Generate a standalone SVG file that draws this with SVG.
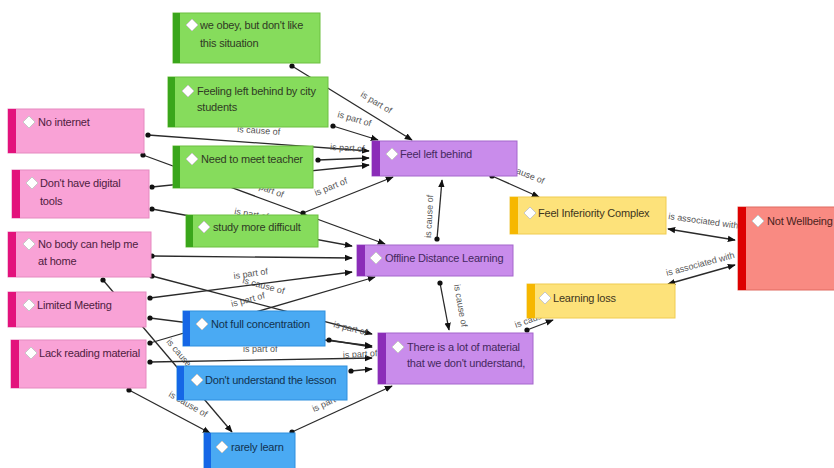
<svg xmlns="http://www.w3.org/2000/svg" width="834" height="468" viewBox="0 0 834 468">
<style>
.c{stroke:#2a2a2a;stroke-width:1.3;fill:none;marker-start:url(#dot);marker-end:url(#arr)}
.b{stroke:#2a2a2a;stroke-width:1.3;fill:none;marker-start:url(#arr);marker-end:url(#arr)}
.l{font-family:"Liberation Sans",Arial,sans-serif;font-size:9px;fill:#555}
.t{font-family:"Liberation Sans",Arial,sans-serif;font-size:11px;letter-spacing:-0.2px}
.dm{fill:#fff;stroke:#c8c8c8;stroke-width:1}
.g .bg{fill:#86dc5c;stroke:#6cc040}.g .bar{fill:#3aa61b}.g text{fill:#2f3a24}
.p .bg{fill:#f9a2d6;stroke:#e58ac0}.p .bar{fill:#e3127c}.p text{fill:#4e2040}
.u .bg{fill:#4aaaf3;stroke:#2f8fde}.u .bar{fill:#1567e6}.u text{fill:#12324f}
.v .bg{fill:#c98ceb;stroke:#a466cc}.v .bar{fill:#8b2db8}.v text{fill:#45285e}
.y .bg{fill:#fde27a;stroke:#f0cc50}.y .bar{fill:#f6b700}.y text{fill:#3d3520}
.r .bg{fill:#f98a82;stroke:#e06a60}.r .bar{fill:#dd0000}.r text{fill:#4a2220}
</style>
<defs>
<marker id="dot" viewBox="-3 -3 6 6" markerWidth="6" markerHeight="6" markerUnits="userSpaceOnUse"><circle r="2.6" fill="#111"/></marker>
<marker id="arr" viewBox="0 0 10 10" refX="9" refY="5" markerWidth="8" markerHeight="8" markerUnits="userSpaceOnUse" orient="auto-start-reverse"><path d="M0,1 L10,5 L0,9 z" fill="#111"/></marker>
</defs>
<rect width="834" height="468" fill="#fff"/>
<g id="connectors">
<line class="c" x1="292" y1="66" x2="412" y2="140"/>
<text class="l" transform="translate(360,96) rotate(31)">is part of</text>
<line class="c" x1="333" y1="126" x2="378" y2="140"/>
<text class="l" transform="translate(337,117) rotate(16)">is part of</text>
<line class="c" x1="148" y1="135" x2="369" y2="151"/>
<text class="l" transform="translate(237,132) rotate(4)">is cause of</text>
<line class="c" x1="318" y1="160" x2="369" y2="158"/>
<text class="l" transform="translate(330,150) rotate(3)">is part of</text>
<line class="c" x1="152" y1="187" x2="369" y2="165"/>
<line class="c" x1="143" y1="155" x2="385" y2="244"/>
<text class="l" transform="translate(250,186) rotate(20)">is part of</text>
<line class="c" x1="152" y1="209" x2="352" y2="246"/>
<text class="l" transform="translate(234,214) rotate(10)">is part of</text>
<line class="c" x1="303" y1="213" x2="393" y2="177"/>
<text class="l" transform="translate(316,196) rotate(-22)">is part of</text>
<line class="c" x1="152" y1="256" x2="352" y2="258"/>
<line class="c" x1="152" y1="276" x2="372" y2="334"/>
<text class="l" transform="translate(242,283) rotate(15)">is cause of</text>
<text class="l" transform="translate(333,327) rotate(14)">is part of</text>
<line class="c" x1="103" y1="280" x2="232" y2="432"/>
<text class="l" transform="translate(166,342) rotate(50)">is cause of</text>
<line class="c" x1="150" y1="298" x2="352" y2="272"/>
<text class="l" transform="translate(234,279) rotate(-8)">is part of</text>
<line class="c" x1="150" y1="318" x2="372" y2="346"/>
<line class="c" x1="150" y1="343" x2="375" y2="277"/>
<text class="l" transform="translate(232,307) rotate(-15)">is part of</text>
<line class="c" x1="150" y1="362" x2="372" y2="358"/>
<text class="l" transform="translate(243,352)">is part of</text>
<text class="l" transform="translate(343,358) rotate(-3)">is part of</text>
<line class="c" x1="329" y1="340" x2="372" y2="347"/>
<line class="c" x1="351" y1="371" x2="372" y2="369"/>
<line class="c" x1="129" y1="390" x2="210" y2="433"/>
<text class="l" transform="translate(168,396) rotate(30)">is cause of</text>
<line class="c" x1="292" y1="432" x2="392" y2="386"/>
<text class="l" transform="translate(314,412) rotate(-25)">is part of</text>
<line class="c" x1="437" y1="239" x2="442" y2="180"/>
<text class="l" transform="translate(431,238) rotate(-87)">is cause of</text>
<line class="c" x1="440" y1="283" x2="449" y2="330"/>
<text class="l" transform="translate(454,285) rotate(80)">is cause of</text>
<line class="c" x1="492" y1="176" x2="539" y2="197"/>
<text class="l" transform="translate(503,168) rotate(22)">is cause of</text>
<line class="c" x1="527" y1="330" x2="553" y2="320"/>
<text class="l" transform="translate(516,328) rotate(-20)">is cause of</text>
<line class="b" x1="668" y1="229" x2="735" y2="240"/>
<text class="l" transform="translate(668,219) rotate(8)">is associated with</text>
<line class="b" x1="668" y1="284" x2="735" y2="265"/>
<text class="l" transform="translate(667,276) rotate(-15)">is associated with</text>
</g>
<g id="n1" class="g"><rect class="bg" x="173" y="13" width="147" height="50"/><rect class="bar" x="173" y="13" width="7" height="50"/><path class="dm" d="M192,19 L198,25 L192,31 L186,25 Z"/><text class="t" x="200" y="29">we obey, but don't like</text><text class="t" x="200" y="47">this situation</text></g>
<g id="n2" class="g"><rect class="bg" x="168" y="77" width="160" height="50"/><rect class="bar" x="168" y="77" width="7" height="50"/><path class="dm" d="M188,85 L194,91 L188,97 L182,91 Z"/><text class="t" x="197" y="95">Feeling left behind by city</text><text class="t" x="197" y="111">students</text></g>
<g id="n3" class="p"><rect class="bg" x="8" y="109" width="136" height="44"/><rect class="bar" x="8" y="109" width="8" height="44"/><path class="dm" d="M29,116 L35,122 L29,128 L23,122 Z"/><text class="t" x="38" y="126">No internet</text></g>
<g id="n4" class="g"><rect class="bg" x="173" y="146" width="140" height="42"/><rect class="bar" x="173" y="146" width="7" height="42"/><path class="dm" d="M192,153 L198,159 L192,165 L186,159 Z"/><text class="t" x="201" y="163">Need to meet teacher</text></g>
<g id="n5" class="p"><rect class="bg" x="12" y="170" width="137" height="48"/><rect class="bar" x="12" y="170" width="8" height="48"/><path class="dm" d="M32,177 L38,183 L32,189 L26,183 Z"/><text class="t" x="40" y="187">Don't have digital</text><text class="t" x="40" y="205">tools</text></g>
<g id="n6" class="g"><rect class="bg" x="186" y="215" width="132" height="32"/><rect class="bar" x="186" y="215" width="7" height="32"/><path class="dm" d="M204,221 L210,227 L204,233 L198,227 Z"/><text class="t" x="213" y="231">study more difficult</text></g>
<g id="n7" class="p"><rect class="bg" x="8" y="232" width="143" height="45"/><rect class="bar" x="8" y="232" width="8" height="45"/><path class="dm" d="M29,238 L35,244 L29,250 L23,244 Z"/><text class="t" x="38" y="248">No body can help me</text><text class="t" x="38" y="265">at home</text></g>
<g id="n8" class="p"><rect class="bg" x="8" y="292" width="138" height="35"/><rect class="bar" x="8" y="292" width="8" height="35"/><path class="dm" d="M29,299 L35,305 L29,311 L23,305 Z"/><text class="t" x="37" y="309">Limited Meeting</text></g>
<g id="n9" class="p"><rect class="bg" x="11" y="340" width="135" height="48"/><rect class="bar" x="11" y="340" width="8" height="48"/><path class="dm" d="M31,347 L37,353 L31,359 L25,353 Z"/><text class="t" x="39" y="357">Lack reading material</text></g>
<g id="n10" class="u"><rect class="bg" x="183" y="311" width="142" height="35"/><rect class="bar" x="183" y="311" width="7" height="35"/><path class="dm" d="M202,318 L208,324 L202,330 L196,324 Z"/><text class="t" x="211" y="328">Not full concentration</text></g>
<g id="n11" class="u"><rect class="bg" x="177" y="366" width="170" height="34"/><rect class="bar" x="177" y="366" width="7" height="34"/><path class="dm" d="M197,374 L203,380 L197,386 L191,380 Z"/><text class="t" x="205" y="384">Don't understand the lesson</text></g>
<g id="n12" class="u"><rect class="bg" x="204" y="433" width="91" height="40"/><rect class="bar" x="204" y="433" width="7" height="40"/><path class="dm" d="M222,441 L228,447 L222,453 L216,447 Z"/><text class="t" x="231" y="451">rarely learn</text></g>
<g id="n13" class="v"><rect class="bg" x="372" y="141" width="145" height="35"/><rect class="bar" x="372" y="141" width="8" height="35"/><path class="dm" d="M392,148 L398,154 L392,160 L386,154 Z"/><text class="t" x="400" y="158">Feel left behind</text></g>
<g id="n14" class="v"><rect class="bg" x="357" y="245" width="156" height="31"/><rect class="bar" x="357" y="245" width="8" height="31"/><path class="dm" d="M376,252 L382,258 L376,264 L370,258 Z"/><text class="t" x="385" y="262">Offline Distance Learning</text></g>
<g id="n15" class="v"><rect class="bg" x="378" y="333" width="155" height="51"/><rect class="bar" x="378" y="333" width="8" height="51"/><path class="dm" d="M398,341 L404,347 L398,353 L392,347 Z"/><text class="t" x="407" y="351">There is a lot of material</text><text class="t" x="407" y="367">that we don't understand,</text></g>
<g id="n16" class="y"><rect class="bg" x="510" y="197" width="156" height="37"/><rect class="bar" x="510" y="197" width="8" height="37"/><path class="dm" d="M530,207 L536,213 L530,219 L524,213 Z"/><text class="t" x="538" y="217">Feel Inferiority Complex</text></g>
<g id="n17" class="y"><rect class="bg" x="527" y="284" width="148" height="34"/><rect class="bar" x="527" y="284" width="8" height="34"/><path class="dm" d="M545,292 L551,298 L545,304 L539,298 Z"/><text class="t" x="553" y="302">Learning loss</text></g>
<g id="n18" class="r"><rect class="bg" x="738" y="207" width="100" height="83"/><rect class="bar" x="738" y="207" width="8" height="83"/><path class="dm" d="M758,215 L764,221 L758,227 L752,221 Z"/><text class="t" x="767" y="225">Not Wellbeing</text></g>
</svg>
